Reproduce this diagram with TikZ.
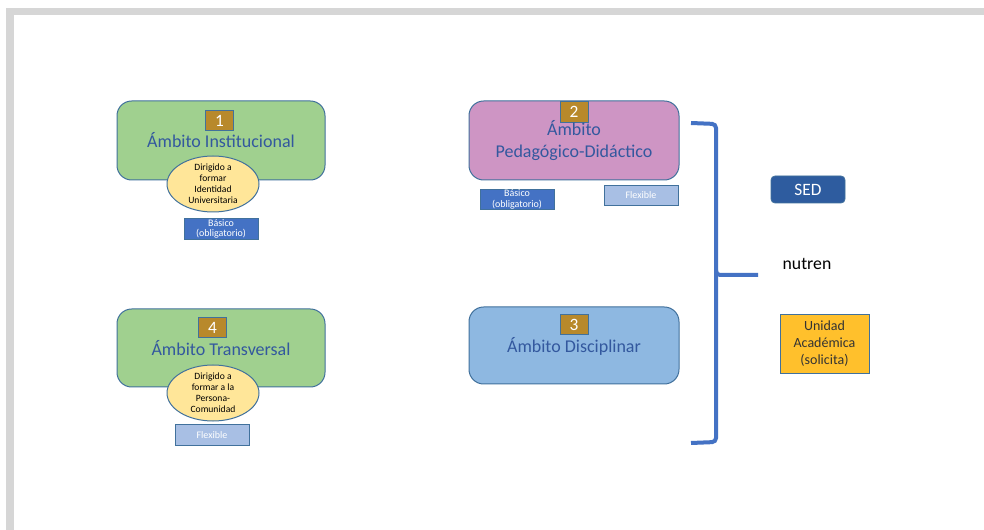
\documentclass[tikz,border=0pt]{standalone}
\usepackage{fontspec}
\setmainfont{Carlito}
\definecolor{edge}{HTML}{41719C}
\definecolor{greenf}{HTML}{A0D08F}
\definecolor{pinkf}{HTML}{CE95C4}
\definecolor{bluef}{HTML}{8EB8E1}
\definecolor{ellf}{HTML}{FFE699}
\definecolor{numf}{HTML}{B8892B}
\definecolor{basf}{HTML}{4472C4}
\definecolor{flexf}{HTML}{A8BFE4}
\definecolor{titlec}{HTML}{33589E}
\definecolor{sedf}{HTML}{2E5C9F}
\definecolor{unif}{HTML}{FFC02C}
\definecolor{framec}{HTML}{D6D6D6}
\tikzset{
  ambox/.style={draw=edge, line width=0.75pt, rounded corners=11pt, minimum width=#1, inner sep=0pt, align=center, text=titlec, font=\fontsize{13.5}{16.5}\selectfont},
  numbox/.style={draw=edge, line width=0.6pt, fill=numf, text=white, minimum width=21pt, minimum height=15.5pt, inner sep=0pt, font=\fontsize{13}{15}\selectfont},
  ellbox/.style={ellipse, draw=edge, line width=0.75pt, fill=ellf, minimum width=69pt, minimum height=42pt, inner sep=0pt, align=center, font=\fontsize{7.2}{8.2}\selectfont},
  tagbox/.style={draw=edge, line width=0.6pt, minimum width=55.5pt, minimum height=15.5pt, inner sep=0pt, align=center, text=white, font=\fontsize{7.5}{8}\selectfont},
}
\usetikzlibrary{shapes.geometric}
\begin{document}
\begin{tikzpicture}[x=0.75pt,y=-0.75pt]
\useasboundingbox (0,0) rectangle (984,530);
\fill[white] (0,0) rectangle (984,530);
\fill[framec] (6,8) rectangle (984,530);
\fill[white] (14,15) rectangle (984,530);

% Box 1
\node[ambox=156pt, minimum height=59.25pt, fill=greenf] (b1) at (221,140.5) {};
\node[text=titlec, font=\fontsize{13.5}{16.5}\selectfont] (t1) at (221,140) {Ámbito Institucional};
\node[numbox] (n1) at (219.5,120.5) {1};
\node[ellbox] (e1) at (213,184) {Dirigido a\\formar\\Identidad\\Universitaria};
\node[tagbox, fill=basf] (s1) at (221,229) {Básico\\(obligatorio)};

% Box 4
\node[ambox=156pt, minimum height=58.5pt, fill=greenf] (b4) at (221,348) {};
\node[text=titlec, font=\fontsize{13.5}{16.5}\selectfont] (t4) at (221,348) {Ámbito Transversal};
\node[numbox] (n4) at (212.5,327.5) {4};
\node[ellbox] (e4) at (213,393) {Dirigido a\\formar a la\\Persona-\\Comunidad};
\node[tagbox, fill=flexf] (s4) at (212,435) {Flexible};

% Box 2
\node[ambox=157.5pt, minimum height=59.25pt, fill=pinkf] (b2) at (574,140.5) {};
\node[numbox] (n2) at (574,112) {2};
\node[text=titlec, align=center, font=\fontsize{13.5}{16.5}\selectfont] (t2) at (574,141) {Ámbito\\Pedagógico-Didáctico};
\node[tagbox, fill=basf] (s2) at (517,199.5) {Básico\\(obligatorio)};
\node[tagbox, fill=flexf] (f2) at (641,195.5) {Flexible};

% Box 3
\node[ambox=157.5pt, minimum height=57.75pt, fill=bluef] (b3) at (574,345.5) {};
\node[numbox] (n3) at (574,324.5) {3};
\node[text=titlec, font=\fontsize{13.5}{16.5}\selectfont] (t3) at (574,346) {Ámbito Disciplinar};

% Bracket
\coordinate (bt) at (691,123);
\coordinate (bm) at (758,275);
\coordinate (bb) at (691,443);
\draw[basf, line width=3pt, rounded corners=3pt]
  (bt) -- (716,124) -- (716,275) -- (bm);
\draw[basf, line width=3pt, rounded corners=3pt]
  (716,270) -- (716,442) -- (bb);

% Right side
\node[draw=edge, line width=0.6pt, fill=sedf, rounded corners=3pt, minimum width=55.5pt, minimum height=20.25pt, inner sep=0pt, text=white, font=\fontsize{13}{15}\selectfont] (sed) at (808,189.5) {SED};
\node[font=\fontsize{13.3}{15}\selectfont] (nut) at (807,264) {nutren};
\node[draw=edge, line width=0.6pt, fill=unif, minimum width=66.75pt, minimum height=44.25pt, inner sep=0pt, align=center, text=black!80, font=\fontsize{10.5}{12.75}\selectfont] (ua) at (824.5,343.5) {Unidad\\Académica\\(solicita)};
\end{tikzpicture}
\end{document}
